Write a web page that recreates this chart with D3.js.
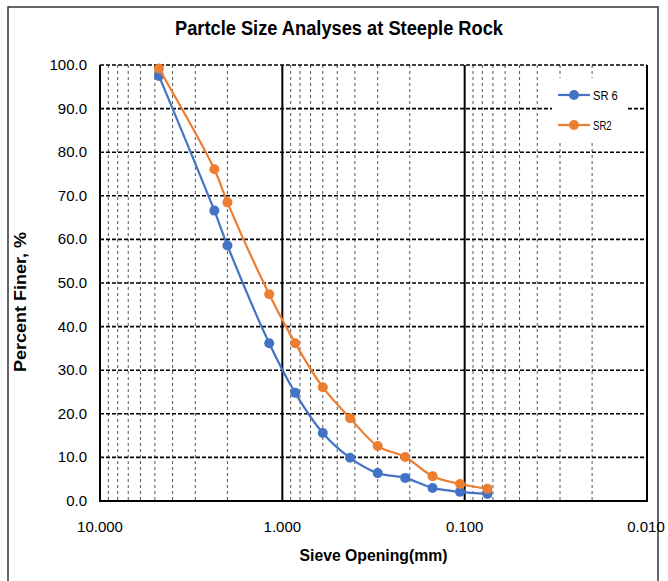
<!DOCTYPE html>
<html>
<head>
<meta charset="utf-8">
<script src="https://cdn.jsdelivr.net/npm/d3@7"></script>
<style>
  body { margin: 0; background: #fff; }
  svg text { font-family: "Liberation Sans", Arial, sans-serif; fill: #000; }
</style>
</head>
<body>
<div id="chart"></div>
<script>
// Sieve openings (mm) and percent finer for each sample
const sieves = [4.75, 2.36, 2.0, 1.18, 0.85, 0.6, 0.425, 0.3, 0.212, 0.15, 0.106, 0.075];
const sr6 = [97.5, 66.6, 58.6, 36.2, 24.8, 15.6, 9.9, 6.4, 5.3, 3.0, 2.1, 1.6];
const sr2 = [99.2, 76.1, 68.5, 47.4, 36.2, 26.1, 19.0, 12.6, 10.1, 5.7, 3.9, 2.8];
const xTicks = [10, 1, 0.1, 0.01];
const yTicks = [0, 10, 20, 30, 40, 50, 60, 70, 80, 90, 100];

const series = [
  { name: "SR 6", values: sr6, color: "#4472C4" },
  { name: "SR2", values: sr2, color: "#ED7D31" }
];

const width = 668, height = 581;
const plotL = 100, plotR = 647, plotT = 65, plotB = 501;

const x = d3.scaleLog().domain([10, 0.01]).range([plotL, plotR]);
const y = d3.scaleLinear().domain([0, 100]).range([plotB, plotT]);

const svg = d3.select("#chart").append("svg")
    .attr("width", width)
    .attr("height", height);

// outer chart border
svg.append("rect")
    .attr("x", 8).attr("y", 7)
    .attr("width", 650).attr("height", 600)
    .attr("fill", "none")
    .attr("stroke", "#333")
    .attr("stroke-width", 1.5);

// minor vertical grid
const minor = x.ticks().filter(d => !xTicks.some(t => Math.abs(t - d) < 1e-9));
svg.append("g").selectAll("line")
  .data(minor)
  .join("line")
    .attr("x1", d => x(d)).attr("x2", d => x(d))
    .attr("y1", plotT).attr("y2", plotB)
    .attr("stroke", "#555")
    .attr("stroke-width", 1)
    .attr("stroke-dasharray", "3,3");

// horizontal grid
svg.append("g").selectAll("line")
  .data(yTicks.filter(d => d > 0))
  .join("line")
    .attr("x1", plotL).attr("x2", plotR)
    .attr("y1", d => y(d)).attr("y2", d => y(d))
    .attr("stroke", "#000")
    .attr("stroke-width", 1.6)
    .attr("stroke-dasharray", "4,2");

// major vertical lines (decades)
svg.append("g").selectAll("line")
  .data(xTicks)
  .join("line")
    .attr("x1", d => x(d)).attr("x2", d => x(d))
    .attr("y1", plotT).attr("y2", plotB)
    .attr("stroke", "#000")
    .attr("stroke-width", 2);

// bottom axis line
svg.append("line")
    .attr("x1", plotL - 1).attr("x2", plotR + 1)
    .attr("y1", plotB).attr("y2", plotB)
    .attr("stroke", "#000").attr("stroke-width", 2.2);

// tick labels
svg.append("g").selectAll("text")
  .data(yTicks)
  .join("text")
    .attr("x", plotL - 13)
    .attr("y", d => y(d) + 5)
    .attr("text-anchor", "end")
    .attr("font-size", 15)
    .text(d => d3.format(".1f")(d));

svg.append("g").selectAll("text")
  .data(xTicks)
  .join("text")
    .attr("x", d => x(d) === plotR ? plotR - 1 : x(d))
    .attr("y", plotB + 31)
    .attr("text-anchor", "middle")
    .attr("font-size", 15)
    .text(d => d3.format(".3f")(d));

// series
const line = d3.line()
    .x(d => x(d[0]))
    .y(d => y(d[1]))
    .curve(d3.curveCatmullRom);

series.forEach(s => {
  const pts = sieves.map((d, i) => [d, s.values[i]]);
  svg.append("path")
      .datum(pts)
      .attr("d", line)
      .attr("fill", "none")
      .attr("stroke", s.color)
      .attr("stroke-width", 2.2);
  svg.append("g").selectAll("circle")
    .data(pts)
    .join("circle")
      .attr("cx", d => x(d[0]))
      .attr("cy", d => y(d[1]))
      .attr("r", 5)
      .attr("fill", s.color);
});

// legend
const legend = svg.append("g");
legend.append("rect")
    .attr("x", 552).attr("y", 78)
    .attr("width", 75).attr("height", 63)
    .attr("fill", "#fff");
series.forEach((s, i) => {
  const ly = 95 + i * 30;
  legend.append("line")
      .attr("x1", 558).attr("x2", 590)
      .attr("y1", ly).attr("y2", ly)
      .attr("stroke", s.color).attr("stroke-width", 2.2);
  legend.append("circle")
      .attr("cx", 574).attr("cy", ly).attr("r", 5)
      .attr("fill", s.color);
  legend.append("text")
      .attr("x", 593).attr("y", ly + 5)
      .attr("font-size", 13)
      .attr("textLength", s.name.length * 6.2)
      .attr("lengthAdjust", "spacingAndGlyphs")
      .text(s.name);
});

// titles (squeezed to mimic the condensed face of the original)
svg.append("text")
    .attr("x", 339).attr("y", 35)
    .attr("text-anchor", "middle")
    .attr("font-size", 20)
    .attr("font-weight", "bold")
    .attr("textLength", 328)
    .attr("lengthAdjust", "spacingAndGlyphs")
    .text("Partcle Size Analyses at Steeple Rock");

svg.append("text")
    .attr("x", (plotL + plotR) / 2).attr("y", 561)
    .attr("text-anchor", "middle")
    .attr("font-size", 17)
    .attr("font-weight", "bold")
    .attr("textLength", 148)
    .attr("lengthAdjust", "spacingAndGlyphs")
    .text("Sieve Opening(mm)");

svg.append("text")
    .attr("transform", "translate(26," + ((plotT + plotB) / 2 + 19) + ") rotate(-90)")
    .attr("text-anchor", "middle")
    .attr("font-size", 16)
    .attr("font-weight", "bold")
    .attr("textLength", 140)
    .attr("lengthAdjust", "spacingAndGlyphs")
    .text("Percent Finer, %");
</script>
</body>
</html>
